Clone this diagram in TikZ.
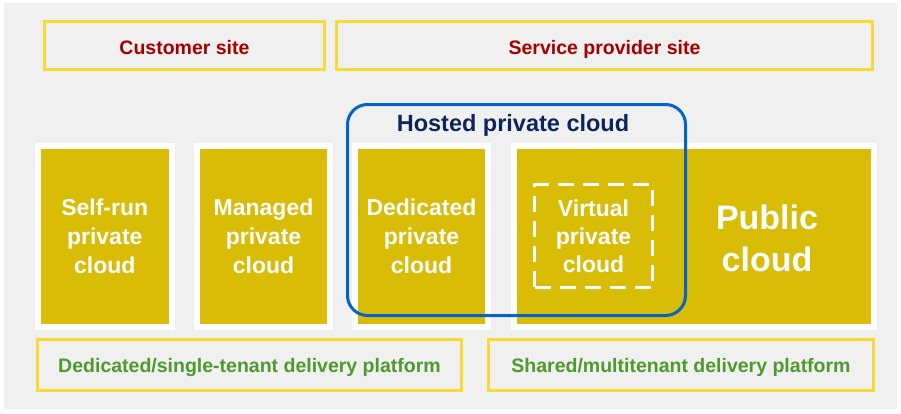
\documentclass[tikz,border=0pt]{standalone}
\usepackage{fontspec}
\setmainfont{Liberation Sans}
\usetikzlibrary{positioning}
\definecolor{bggray}{HTML}{F0F0F0}
\definecolor{siteyellow}{HTML}{F7DA33}
\definecolor{sitered}{HTML}{A50000}
\definecolor{cloudgold}{HTML}{D9BC06}
\definecolor{hostblue}{HTML}{0563C8}
\definecolor{hostnavy}{HTML}{0C2659}
\definecolor{platgreen}{HTML}{4E9A2E}
\tikzset{
  sitebox/.style={draw=siteyellow, line width=3pt, inner sep=0pt, text=sitered,
    text height=17pt, text depth=0pt, minimum height=48pt,
    font=\bfseries\fontsize{19.5}{23}\selectfont},
  cloudbox/.style={fill=cloudgold, draw=white, line width=6pt, text=white,
    align=center, inner sep=0pt, minimum height=181pt,
    font=\bfseries\fontsize{23}{29}\selectfont},
  vpcbox/.style={draw=white, line width=3pt, dash pattern=on 16pt off 9pt,
    text=white, align=center, inner sep=0pt, minimum width=118pt, minimum height=103pt,
    font=\bfseries\fontsize{23}{28}\selectfont},
  hostbox/.style={draw=hostblue, line width=3pt, rounded corners=20pt,
    minimum width=338pt, minimum height=211pt, inner sep=0pt},
  platbox/.style={draw=siteyellow, line width=3pt, inner sep=0pt, text=platgreen,
    text height=14pt, text depth=0pt, minimum height=51pt,
    font=\bfseries\fontsize{19.5}{23}\selectfont}
}

\begin{document}
\begin{tikzpicture}[x=1pt,y=-1pt]
  \useasboundingbox (0,0) rectangle (901,413);
  \fill[bggray] (4,3) rectangle (897,409);

  % sites
  \node[sitebox, minimum width=280pt] (custsite) at (184.5,45.5) {Customer site};
  \node[sitebox, minimum width=536pt] (provsite) at (604.5,45.5) {Service provider site};

  % cloud models
  \node[cloudbox, minimum width=133.5pt] (selfrun)   at (104.75,236.5) {Self-run\\private\\cloud};
  \node[cloudbox, minimum width=133pt]   (managed)   at (263.5,236.5)  {Managed\\private\\cloud};
  \node[cloudbox, minimum width=133pt]   (dedicated) at (421.5,236.5)  {Dedicated\\private\\cloud};
  \node[cloudbox, minimum width=360pt]   (public)    at (694,236.5)    {};
  \node[text=white, align=center, inner sep=0pt,
    font=\bfseries\fontsize{34}{42}\selectfont] (publiclbl) at (767,238.5) {Public\\cloud};
  \node[vpcbox] (virtual) at (593.5,236) {Virtual\\private\\cloud};

  % hosted private cloud
  \node[hostbox] (hosted) at (516.5,210) {};
  \node[anchor=base, inner sep=0pt, text=hostnavy,
    font=\bfseries\fontsize{23.5}{28}\selectfont] (hostedlbl) at (513,131) {Hosted private cloud};

  % delivery platforms
  \node[platbox, minimum width=424pt] (dedplat) at (249.5,365) {Dedicated/single-tenant delivery platform};
  \node[platbox, minimum width=385pt] (shrplat) at (681,365)   {Shared/multitenant delivery platform};
\end{tikzpicture}
\end{document}
